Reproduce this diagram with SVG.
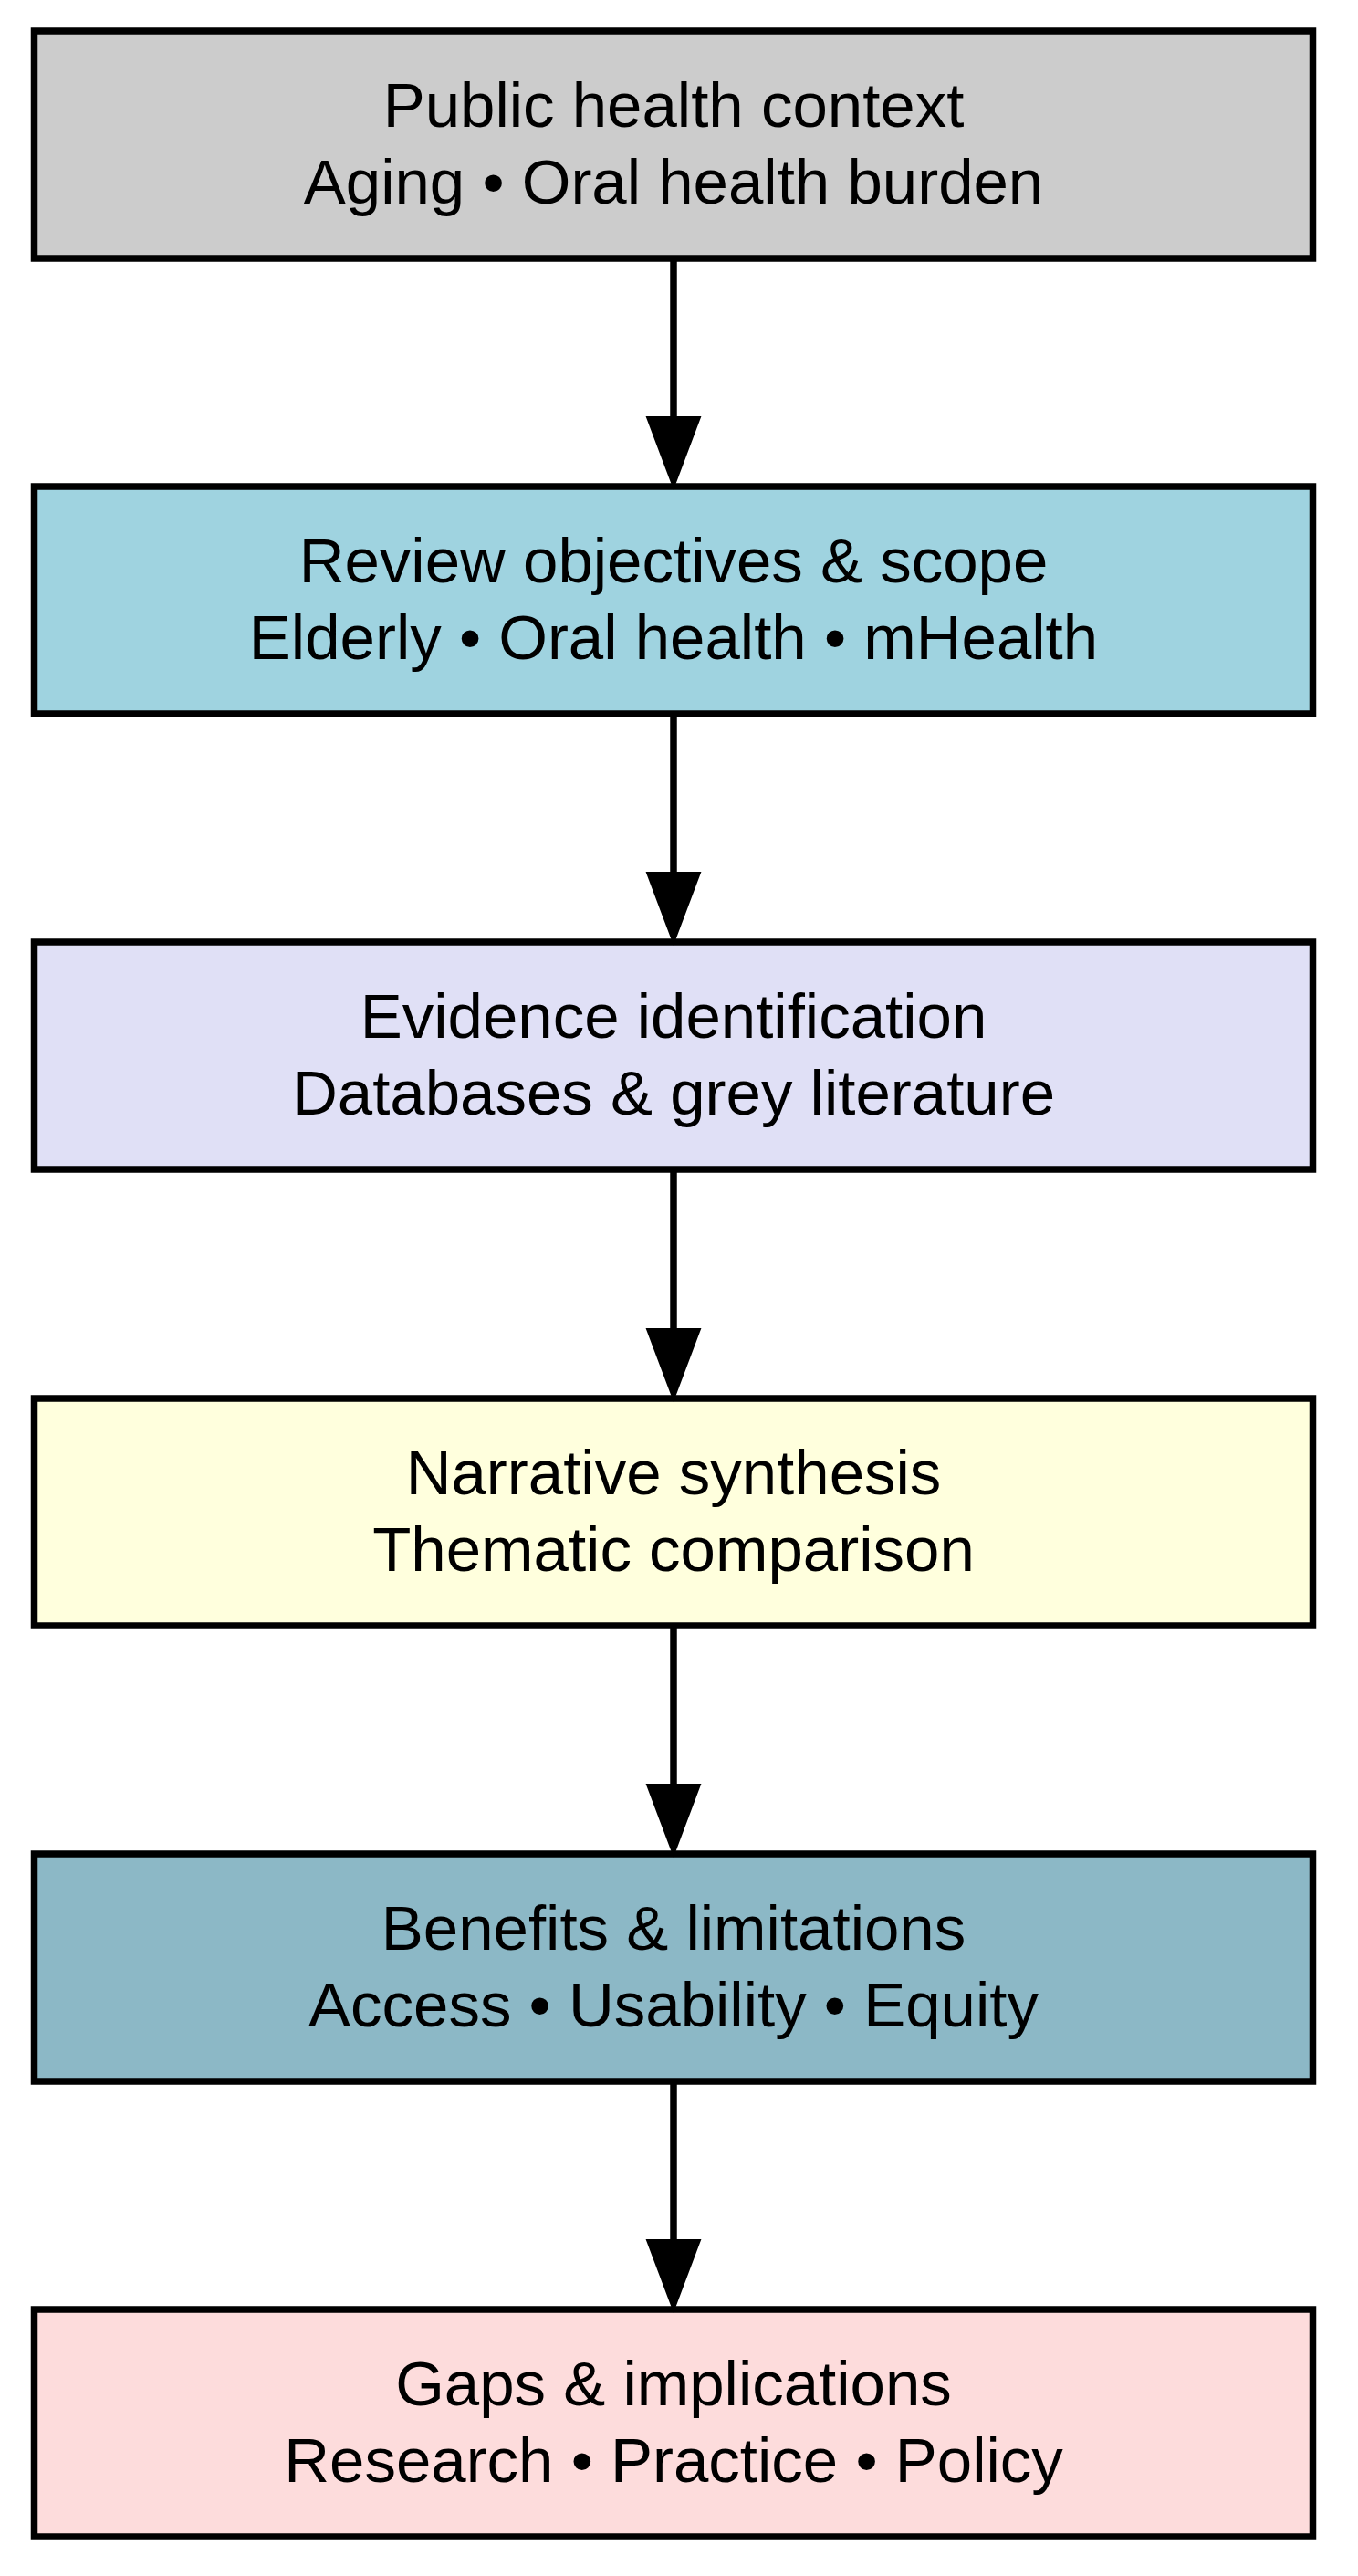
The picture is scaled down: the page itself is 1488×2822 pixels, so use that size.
<svg xmlns="http://www.w3.org/2000/svg" width="1488" height="2822" viewBox="0 0 1488 2822">
<style>
.box{stroke:#000;stroke-width:7.5}
.t{font-family:"Liberation Sans",Arial,Helvetica,sans-serif;font-size:69px;fill:#000;text-anchor:middle}
.edge{stroke:#000;stroke-width:7.5;fill:none}
.head{fill:#000;stroke:#000;stroke-width:2}
</style>
<rect width="1488" height="2822" fill="#fff"/>
<g id="n1"><rect class="box" x="37.5" y="34" width="1401" height="249" fill="#cccccc"/>
<text class="t" x="738" y="139">Public health context</text><text class="t" x="738" y="223">Aging • Oral health burden</text></g>
<g id="n2"><rect class="box" x="37.5" y="533" width="1401" height="249" fill="#9fd3e0"/>
<text class="t" x="738" y="638">Review objectives &amp; scope</text><text class="t" x="738" y="722">Elderly • Oral health • mHealth</text></g>
<g id="n3"><rect class="box" x="37.5" y="1032" width="1401" height="249" fill="#e0e0f6"/>
<text class="t" x="738" y="1137">Evidence identification</text><text class="t" x="738" y="1221">Databases &amp; grey literature</text></g>
<g id="n4"><rect class="box" x="37.5" y="1532" width="1401" height="249" fill="#ffffdd"/>
<text class="t" x="738" y="1637">Narrative synthesis</text><text class="t" x="738" y="1721">Thematic comparison</text></g>
<g id="n5"><rect class="box" x="37.5" y="2031" width="1401" height="249" fill="#8cb8c6"/>
<text class="t" x="738" y="2136">Benefits &amp; limitations</text><text class="t" x="738" y="2220">Access • Usability • Equity</text></g>
<g id="n6"><rect class="box" x="37.5" y="2530" width="1401" height="249" fill="#fddcdc"/>
<text class="t" x="738" y="2635">Gaps &amp; implications</text><text class="t" x="738" y="2719">Research • Practice • Policy</text></g>
<g id="edges">
<line class="edge" x1="738" y1="283" x2="738" y2="460"/><polygon class="head" points="709,457 767,457 738,534"/>
<line class="edge" x1="738" y1="782" x2="738" y2="959"/><polygon class="head" points="709,956 767,956 738,1033"/>
<line class="edge" x1="738" y1="1281" x2="738" y2="1459"/><polygon class="head" points="709,1456 767,1456 738,1533"/>
<line class="edge" x1="738" y1="1781" x2="738" y2="1958"/><polygon class="head" points="709,1955 767,1955 738,2032"/>
<line class="edge" x1="738" y1="2280" x2="738" y2="2457"/><polygon class="head" points="709,2454 767,2454 738,2531"/>
</g>
</svg>
